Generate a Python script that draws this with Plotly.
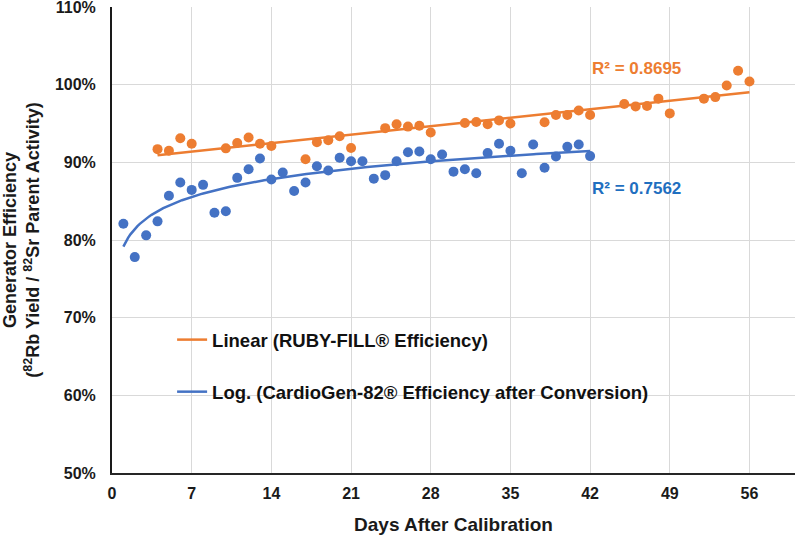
import numpy as np
import plotly.graph_objects as go

# ---- data ----
ruby_days = [4, 5, 6, 7, 10, 11, 12, 13, 14, 17, 18, 19, 20, 21, 24, 25, 26, 27, 28,
             31, 32, 33, 34, 35, 38, 39, 40, 41, 42, 45, 46, 47, 48, 49, 52, 53, 54, 55, 56]
ruby_eff = [91.7, 91.5, 93.1, 92.4, 91.8, 92.5, 93.2, 92.4, 92.1, 90.4, 92.6, 92.85, 93.35, 91.85,
            94.4, 94.9, 94.6, 94.7, 93.85, 95.07, 95.2, 94.9, 95.4, 95.0, 95.16, 96.1, 96.1, 96.67,
            96.1, 97.5, 97.2, 97.26, 98.2, 96.3, 98.2, 98.4, 99.9, 101.8, 100.4]

cardio_days = list(range(1, 43))
cardio_eff = [82.1, 77.8, 80.6, 82.4, 85.7, 87.4, 86.45, 87.1, 83.5, 83.7, 88.0, 89.1, 90.5, 87.8,
              88.7, 86.3, 87.4, 89.5, 88.95, 90.6, 90.15, 90.15, 87.9, 88.35, 90.15, 91.3, 91.4,
              90.4, 91.0, 88.8, 89.1, 88.6, 91.2, 92.4, 91.5, 88.6, 92.3, 89.3, 90.75, 92.0, 92.3, 90.8]

ruby_r2 = "R² = 0.8695"
cardio_r2 = "R² = 0.7562"
x_ticks = [0, 7, 14, 21, 28, 35, 42, 49, 56]
y_ticks = [50, 60, 70, 80, 90, 100, 110]
y_ticktext = ["50%", "60%", "70%", "80%", "90%", "100%", "110%"]

ORANGE = "#ED7D31"
BLUE = "#4472C4"

# trendlines fitted from the data
rx = np.array(ruby_days, float); ry = np.array(ruby_eff, float)
m, c = np.polyfit(rx, ry, 1)
lin_x = np.array([rx.min(), rx.max()])
lin_y = m * lin_x + c

cx = np.array(cardio_days, float); cy = np.array(cardio_eff, float)
a, b = np.polyfit(np.log(cx), cy, 1)
log_x = np.linspace(cx.min(), cx.max(), 200)
log_y = a * np.log(log_x) + b

fig = go.Figure()
fig.add_trace(go.Scatter(x=ruby_days, y=ruby_eff, mode="markers",
                         marker=dict(color=ORANGE, size=10), showlegend=False))
fig.add_trace(go.Scatter(x=cardio_days, y=cardio_eff, mode="markers",
                         marker=dict(color=BLUE, size=10), showlegend=False))
fig.add_trace(go.Scatter(x=lin_x, y=lin_y, mode="lines", line=dict(color=ORANGE, width=2.5),
                         name="Linear (RUBY-FILL® Efficiency)", legendgroup="a"))
fig.add_trace(go.Scatter(x=log_x, y=log_y, mode="lines", line=dict(color=BLUE, width=2.5),
                         name="Log. (CardioGen-82® Efficiency after Conversion)", legendgroup="b"))

fig.add_annotation(x=42.0, y=102.1, xanchor="left", yanchor="middle", text=ruby_r2, showarrow=False,
                   font=dict(color=ORANGE, size=17, weight="bold"))
fig.add_annotation(x=42.0, y=86.6, xanchor="left", yanchor="middle", text=cardio_r2, showarrow=False,
                   font=dict(color="#1F6FC0", size=17, weight="bold"))

font_fam = "Liberation Sans, Arial, sans-serif"
fig.update_layout(
    width=797, height=535,
    margin=dict(l=112, r=2, t=7, b=62),
    paper_bgcolor="white", plot_bgcolor="white",
    font=dict(family=font_fam, color="#1a1a1a"),
    legend=dict(x=0.088, y=0.326, xanchor="left", yanchor="top", bgcolor="rgba(0,0,0,0)",
                tracegroupgap=25, traceorder="grouped",
                font=dict(size=18.5, weight="bold", color="#111111")),
    xaxis=dict(range=[0, 60], tickvals=x_ticks, showgrid=True, gridcolor="#D9D9D9",
               showline=True, linecolor="#262626", linewidth=2, zeroline=False, automargin=False,
               tickfont=dict(size=16, weight="bold"), ticks="", ticklabelstandoff=5,
               title=dict(text="Days After Calibration", font=dict(size=19, weight="bold"), standoff=18)),
    yaxis=dict(range=[50, 110.0001], tickvals=y_ticks, ticktext=y_ticktext, showgrid=True,
               gridcolor="#D9D9D9", ticklabeloverflow="allow", automargin=False,
               showline=True, linecolor="#1a1a1a", linewidth=2, zeroline=False,
               tickfont=dict(size=16, weight="bold"), ticks="", ticklabelstandoff=11,
               title=dict(text="Generator Efficiency<br>(<sup>82</sup>Rb Yield / <sup>82</sup>Sr Parent Activity)",
                          font=dict(size=18, weight="bold"), standoff=27)),
)
# remove the browser's default 8px page margin so the figure fills the window exactly
fig.write_html("out.html", config={"displayModeBar": False},
               post_script="document.body.style.margin='0px';")
